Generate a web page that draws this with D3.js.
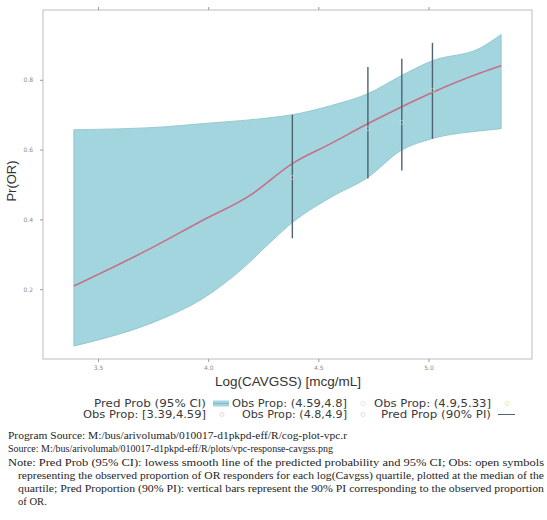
<!DOCTYPE html>
<html>
<head>
<meta charset="utf-8">
<script src="https://cdn.jsdelivr.net/npm/d3@7"></script>
<style>
  html, body { margin: 0; padding: 0; background: #fff; }
  svg { display: block; }
</style>
</head>
<body>
<svg id="chart" width="547" height="520"></svg>
<script>
// Predicted probability (lowess smooth) with 95% CI, by log(Cavgss)
const predX  = [3.39, 3.73, 3.965, 4.19, 4.382, 4.556, 4.724, 4.879, 5.015, 5.238, 5.33];
const predY  = [0.209, 0.314, 0.394, 0.469, 0.56, 0.617, 0.674, 0.723, 0.763, 0.82, 0.84];
const bandX  = [3.39, 3.797, 3.965, 4.147, 4.29, 4.382, 4.556, 4.724, 4.874, 5.015, 5.238, 5.33];
const ciLow  = [0.037, 0.117, 0.169, 0.254, 0.339, 0.391, 0.463, 0.52, 0.597, 0.631, 0.654, 0.66];
const ciHigh = [0.657, 0.665, 0.674, 0.683, 0.692, 0.70, 0.726, 0.76, 0.811, 0.854, 0.892, 0.93];

// Observed proportion per quartile, with 90% prediction intervals
const quartiles = ["[3.39,4.59]", "(4.59,4.8]", "(4.8,4.9]", "(4.9,5.33]"];
const quartMed  = [4.382, 4.725, 4.879, 5.018];
const obsProp   = [0.52, 0.66, 0.678, 0.77];
const piLow     = [0.346, 0.517, 0.54, 0.631];
const piHigh    = [0.70, 0.837, 0.86, 0.906];
const obsColors = ["#f2d2dc", "#dde4e8", "#d3e2ea", "#eeeab0"];

const xTicks = [3.5, 4.0, 4.5, 5.0];
const yTicks = [0.2, 0.4, 0.6, 0.8];

const noteLines = [
  "Program Source: M:/bus/arivolumab/010017-d1pkpd-eff/R/cog-plot-vpc.r",
  "Source: M:/bus/arivolumab/010017-d1pkpd-eff/R/plots/vpc-response-cavgss.png",
  "Note: Pred Prob (95% CI): lowess smooth line of the predicted probability and 95% CI; Obs: open symbols",
  "representing the observed proportion of OR responders for each log(Cavgss) quartile, plotted at the median of the",
  "quartile; Pred Proportion (90% PI): vertical bars represent the 90% PI corresponding to the observed proportion",
  "of OR."
];

const svg = d3.select("#chart");
const plot = { left: 43, top: 10, right: 532, bottom: 359 };

const x = d3.scaleLinear().domain([3.25, 5.47]).range([plot.left, plot.right]);
const y = d3.scaleLinear().domain([0, 1]).range([plot.bottom, plot.top]);

// confidence band
const bandData = bandX.map((v, i) => ({ x: v, lo: ciLow[i], hi: ciHigh[i] }));
svg.append("path")
  .datum(bandData)
  .attr("d", d3.area().x(d => x(d.x)).y0(d => y(d.lo)).y1(d => y(d.hi)).curve(d3.curveMonotoneX))
  .attr("fill", "#a3d5de")
  .attr("stroke", "#88c0ca")
  .attr("stroke-width", 0.8);

// predicted probability line
const predData = predX.map((v, i) => ({ x: v, y: predY[i] }));
svg.append("path")
  .datum(predData)
  .attr("d", d3.line().x(d => x(d.x)).y(d => y(d.y)).curve(d3.curveMonotoneX))
  .attr("fill", "none")
  .attr("stroke", "#c4708a")
  .attr("stroke-width", 1.6);

// 90% PI bars
svg.selectAll("line.pi")
  .data(quartMed)
  .join("line")
  .attr("class", "pi")
  .attr("x1", d => x(d)).attr("x2", d => x(d))
  .attr("y1", (d, i) => y(piLow[i])).attr("y2", (d, i) => y(piHigh[i]))
  .attr("stroke", "#4d6470")
  .attr("stroke-width", 1.4);

// observed proportions (open symbols)
svg.selectAll("circle.obs")
  .data(quartMed)
  .join("circle")
  .attr("class", "obs")
  .attr("cx", d => x(d))
  .attr("cy", (d, i) => y(obsProp[i]))
  .attr("r", 2)
  .attr("fill", "none")
  .attr("stroke", (d, i) => obsColors[i])
  .attr("stroke-width", 0.8)
  .attr("opacity", 0.7);

// frame
svg.append("rect")
  .attr("x", plot.left).attr("y", plot.top)
  .attr("width", plot.right - plot.left).attr("height", plot.bottom - plot.top)
  .attr("fill", "none")
  .attr("stroke", "#c8c8c8")
  .attr("stroke-width", 1.2);

// axes
const tickColor = "#9a9a9a";
const xAxis = svg.append("g")
  .attr("transform", `translate(0,${plot.bottom})`)
  .call(d3.axisBottom(x).tickValues(xTicks).tickFormat(d3.format(".1f")).tickSize(3));
const xAxisTop = svg.append("g")
  .attr("transform", `translate(0,${plot.top})`)
  .call(d3.axisTop(x).tickValues(xTicks).tickFormat("").tickSize(3));
const yAxis = svg.append("g")
  .attr("transform", `translate(${plot.left},0)`)
  .call(d3.axisLeft(y).tickValues(yTicks).tickFormat(d3.format(".1f")).tickSize(3));
[xAxis, xAxisTop, yAxis].forEach(g => {
  g.select(".domain").remove();
  g.selectAll(".tick line").attr("stroke", tickColor);
  g.selectAll(".tick text")
    .attr("fill", "#8a8a8a")
    .attr("font-family", "DejaVu Sans, sans-serif")
    .attr("font-size", 6);
});
xAxis.selectAll(".tick text").attr("dy", "0.9em");
yAxis.selectAll(".tick text").attr("dx", "-4");

// axis titles
svg.append("text")
  .attr("x", 288).attr("y", 386)
  .attr("text-anchor", "middle")
  .attr("font-family", "Liberation Sans, Arial, sans-serif")
  .attr("font-size", 13.5)
  .attr("fill", "#333")
  .text("Log(CAVGSS) [mcg/mL]");
svg.append("text")
  .attr("transform", "translate(16,181) rotate(-90)")
  .attr("text-anchor", "middle")
  .attr("font-family", "Liberation Sans, Arial, sans-serif")
  .attr("font-size", 13)
  .attr("fill", "#333")
  .text("Pr(OR)");

// legend
const legend = svg.append("g")
  .attr("font-family", "DejaVu Sans, sans-serif")
  .attr("font-size", 9.8)
  .attr("fill", "#3a3a3a");
const legendItems = [
  { label: "Pred Prob (95% CI)", col: 0, row: 0, kind: "band", w: 112 },
  { label: "Obs Prop: " + quartiles[1], col: 1, row: 0, kind: "obs", q: 1, w: 115 },
  { label: "Obs Prop: " + quartiles[3], col: 2, row: 0, kind: "obs", q: 3, w: 117 },
  { label: "Obs Prop: " + quartiles[0], col: 0, row: 1, kind: "obs", q: 0, w: 123 },
  { label: "Obs Prop: " + quartiles[2], col: 1, row: 1, kind: "obs", q: 2, w: 105 },
  { label: "Pred Prop (90% PI)", col: 2, row: 1, kind: "pi", w: 110 }
];
const colRight = [206, 347, 491];
const rowY = [407, 418];
legendItems.forEach(it => {
  const tx = colRight[it.col], ty = rowY[it.row];
  legend.append("text")
    .attr("x", tx).attr("y", ty)
    .attr("text-anchor", "end")
    .attr("textLength", it.w)
    .attr("lengthAdjust", "spacingAndGlyphs")
    .text(it.label);
  const sx = tx + 7, sy = ty - 3.5;
  if (it.kind === "band") {
    legend.append("rect").attr("x", sx).attr("y", sy - 3)
      .attr("width", 16).attr("height", 6).attr("fill", "#a3d5de");
    legend.append("line").attr("x1", sx).attr("x2", sx + 16)
      .attr("y1", sy).attr("y2", sy).attr("stroke", "#8fb6cf").attr("stroke-width", 1.2);
  } else if (it.kind === "obs") {
    legend.append("circle").attr("cx", sx + 9).attr("cy", sy).attr("r", 2)
      .attr("fill", "none").attr("stroke", obsColors[it.q]).attr("stroke-width", 1);
  } else {
    legend.append("line").attr("x1", sx).attr("x2", sx + 17)
      .attr("y1", sy).attr("y2", sy).attr("stroke", "#4d6470").attr("stroke-width", 1);
  }
});

// source / note text
const notes = svg.append("g")
  .attr("font-family", "Liberation Serif, Times New Roman, serif")
  .attr("font-size", 10.6)
  .attr("fill", "#1e1e1e");
const noteY = [439, 452, 466, 479, 492, 505];
const noteWidth = [339, 325, 536, 526, 526, null];
noteLines.forEach((t, i) => {
  const indent = i >= 3 ? 18 : 8;
  const tEl = notes.append("text").attr("x", indent).attr("y", noteY[i]).text(t);
  if (noteWidth[i]) {
    tEl.attr("textLength", noteWidth[i]).attr("lengthAdjust", "spacingAndGlyphs");
  }
});
</script>
</body>
</html>
